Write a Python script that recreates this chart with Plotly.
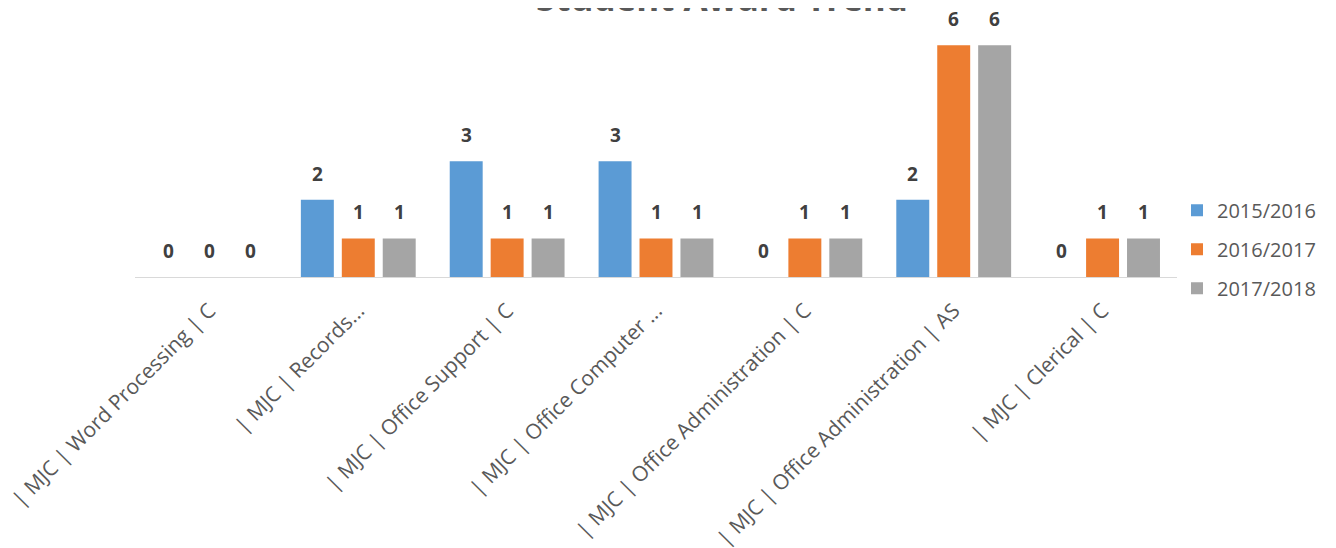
import plotly.graph_objects as go

categories = [
    "| MJC | Word Processing | C",
    "| MJC | Records...",
    "| MJC | Office Support | C",
    "| MJC | Office Computer ...",
    "| MJC | Office Administration | C",
    "| MJC | Office Administration | AS",
    "| MJC | Clerical | C",
]
series_names = ["2015/2016", "2016/2017", "2017/2018"]
values_2015 = [0, 2, 3, 3, 0, 2, 0]
values_2016 = [0, 1, 1, 1, 1, 6, 1]
values_2017 = [0, 1, 1, 1, 1, 6, 1]
colors = ["#5B9BD5", "#ED7D31", "#A5A5A5"]

all_values = [values_2015, values_2016, values_2017]

fig = go.Figure()
for name, vals, col in zip(series_names, all_values, colors):
    fig.add_trace(go.Bar(
        x=categories, y=vals, name=name,
        marker=dict(color=col, line=dict(width=0)),
        legendgroup=name,
    ))

# data labels above each bar
offsets = [-41, 0, 41]
annotations = []
for vals, off in zip(all_values, offsets):
    for c, v in zip(categories, vals):
        annotations.append(dict(
            x=c, y=v, xref="x", yref="y", text=str(v), showarrow=False,
            xshift=off, yshift=26,
            font=dict(family="Open Sans", size=19, color="#404040", weight="bold"),
        ))

annotations.append(dict(
    x=0.563, y=1, xref="paper", yref="paper", text="<b>Student Award Trend</b>",
    showarrow=False, yanchor="middle", yshift=29,
    font=dict(family="Open Sans", size=35, color="#595959"),
))

fig.update_layout(
    width=1320, height=540,
    margin=dict(l=126.5, r=150.5, t=17.5, b=271, autoexpand=False),
    paper_bgcolor="white", plot_bgcolor="white",
    barmode="group", bargap=0.175, bargroupgap=0.195,
    showlegend=True,
    legend=dict(x=1.0, y=0.111, xanchor="left", yanchor="middle",
                font=dict(family="Open Sans", size=20, color="#595959"),
                tracegroupgap=10, bgcolor="rgba(0,0,0,0)"),
    annotations=annotations,
    xaxis=dict(
        showline=True, linecolor="#D9D9D9", linewidth=1,
        tickangle=-45, ticks="", automargin=False,
        tickfont=dict(family="Open Sans", size=21, color="#595959"),
        ticklabelshift=0, ticklabelstandoff=12,
        showgrid=False,
    ),
    yaxis=dict(range=[0, 6.5], visible=False, showgrid=False, zeroline=False),
)

fig.write_html("out.html")
